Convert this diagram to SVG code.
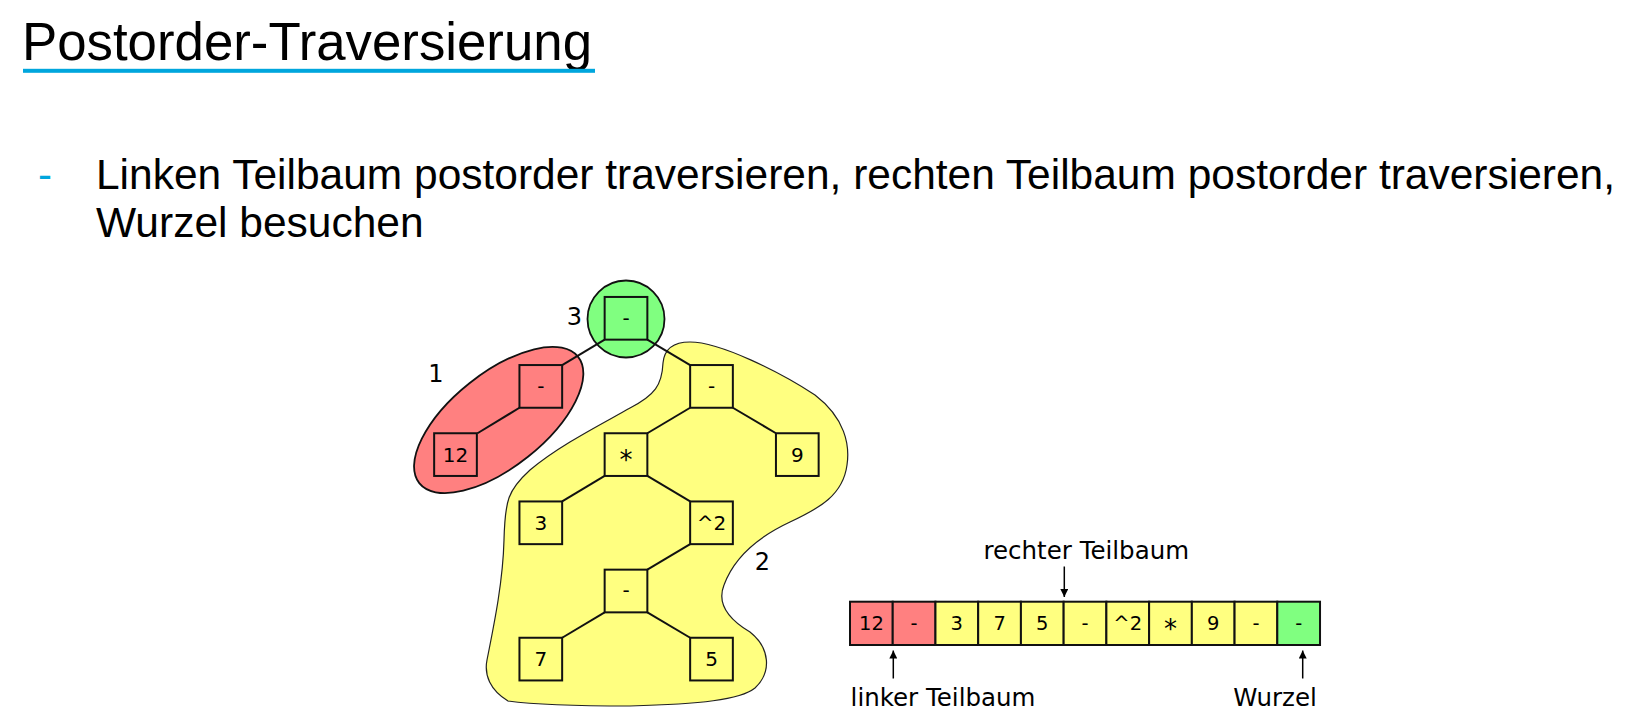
<svg xmlns="http://www.w3.org/2000/svg" width="1630" height="726" viewBox="0 0 1630 726">
<defs>
<style>
.title{font-family:"Liberation Sans",Arial,sans-serif;font-size:53px;fill:#000}
.body{font-family:"Liberation Sans",Arial,sans-serif;font-size:42.5px;fill:#000}
.bullet{font-family:"Liberation Sans",Arial,sans-serif;font-size:42px;fill:#00a6dd}
.lbl{font-family:"DejaVu Sans",Verdana,sans-serif;font-size:24px;fill:#000;text-anchor:middle}
.cap{font-family:"DejaVu Sans",Verdana,sans-serif;font-size:24.5px;fill:#000;text-anchor:middle}
.nt{font-family:"DejaVu Sans",Verdana,sans-serif;font-size:20px;fill:#000;text-anchor:middle}
.ct{font-family:"DejaVu Sans",Verdana,sans-serif;font-size:19.5px;fill:#000;text-anchor:middle}
.ast{font-size:26px}
.node{stroke:#111;stroke-width:2}
.red{fill:#ff8080}
.yel{fill:#ffff80}
.grn{fill:#80ff80}
.edge{stroke:#111;stroke-width:2;fill:none}
.arr{stroke:#000;stroke-width:1.5;fill:none;marker-end:url(#ah)}
</style>
<marker id="ah" viewBox="0 0 10 10" refX="10" refY="5" markerWidth="8" markerHeight="8" markerUnits="userSpaceOnUse" orient="auto">
<path d="M0,0 L10,5 L0,10 Z" fill="#000"/>
</marker>
</defs>
<rect width="1630" height="726" fill="#fff"/>

<g id="title">
<text class="title" x="22" y="60" textLength="570" lengthAdjust="spacingAndGlyphs">Postorder-Traversierung</text>
<rect x="23" y="68.8" width="572" height="4" fill="#00a6dd"/>
</g>

<g id="bullet">
<text class="bullet" x="38" y="189">-</text>
<text class="body" x="96" y="189" textLength="1519" lengthAdjust="spacingAndGlyphs">Linken Teilbaum postorder traversieren, rechten Teilbaum postorder traversieren,</text>
<text class="body" x="96" y="237">Wurzel besuchen</text>
</g>

<g id="groups">
<path id="blob2" d="M663,363 C664,352 670,342 690,342 C720,342 780,372 815,395 C845,418 850,445 847,465 C843,495 820,508 790,522 C760,536 735,555 724,585 C716,605 730,620 750,632 C770,648 772,672 755,688 C740,700 700,704 630,706 C580,706 530,704 508,701 C490,690 484,675 487,660 C495,620 503,580 504,540 C505,500 508,490 530,470 C560,445 600,425 630,408 C655,395 662,385 663,363 Z" fill="#ffff80" stroke="#222" stroke-width="1.2"/>
<ellipse id="ell1" cx="498.7" cy="420" rx="101.5" ry="47" transform="rotate(-38.5 498.7 420)" fill="#ff8080" stroke="#111" stroke-width="1.8"/>
<circle id="circ3" cx="626" cy="319" r="38.5" fill="#80ff80" stroke="#111" stroke-width="1.8"/>
<text class="lbl" x="574.5" y="325">3</text>
<text class="lbl" x="436" y="381.7">1</text>
<text class="lbl" x="762.5" y="570">2</text>
</g>

<g id="connectors">
<line class="edge" x1="604.65" y1="339.65" x2="562.15" y2="365.05"/>
<line class="edge" x1="647.35" y1="339.65" x2="690.15" y2="365.05"/>
<line class="edge" x1="519.45" y1="407.75" x2="477.5" y2="433.25"/>
<line class="edge" x1="690.15" y1="407.75" x2="647.35" y2="433.25"/>
<line class="edge" x1="732.85" y1="407.75" x2="775.95" y2="433.25"/>
<line class="edge" x1="604.65" y1="475.95" x2="562.15" y2="501.45"/>
<line class="edge" x1="647.35" y1="475.95" x2="690.15" y2="501.45"/>
<line class="edge" x1="690.15" y1="544.15" x2="647.35" y2="569.65"/>
<line class="edge" x1="604.65" y1="612.35" x2="562.15" y2="637.75"/>
<line class="edge" x1="647.35" y1="612.35" x2="690.15" y2="637.75"/>
<line class="arr" x1="1064.3" y1="566.5" x2="1064.3" y2="597"/>
<line class="arr" x1="893.3" y1="678.5" x2="893.3" y2="650.5"/>
<line class="arr" x1="1302.7" y1="678.5" x2="1302.7" y2="650.5"/>
</g>

<g id="n_root"><rect class="node grn" x="604.65" y="296.95" width="42.7" height="42.7"/><text class="nt" x="626" y="324.5">-</text></g>
<g id="n_lminus"><rect class="node red" x="519.45" y="365.05" width="42.7" height="42.7"/><text class="nt" x="540.8" y="392.6">-</text></g>
<g id="n_12"><rect class="node red" x="434.15" y="433.25" width="42.7" height="42.7"/><text class="nt" x="455.5" y="461.8">12</text></g>
<g id="n_rminus"><rect class="node yel" x="690.15" y="365.05" width="42.7" height="42.7"/><text class="nt" x="711.5" y="392.6">-</text></g>
<g id="n_mul"><rect class="node yel" x="604.65" y="433.25" width="42.7" height="42.7"/><text class="nt ast" x="626" y="469">*</text></g>
<g id="n_9"><rect class="node yel" x="775.95" y="433.25" width="42.7" height="42.7"/><text class="nt" x="797.3" y="461.8">9</text></g>
<g id="n_3"><rect class="node yel" x="519.45" y="501.45" width="42.7" height="42.7"/><text class="nt" x="540.8" y="530">3</text></g>
<g id="n_sq"><rect class="node yel" x="690.15" y="501.45" width="42.7" height="42.7"/><text class="nt" x="711.5" y="530">^2</text></g>
<g id="n_mminus"><rect class="node yel" x="604.65" y="569.65" width="42.7" height="42.7"/><text class="nt" x="626" y="597.2">-</text></g>
<g id="n_7"><rect class="node yel" x="519.45" y="637.75" width="42.7" height="42.7"/><text class="nt" x="540.8" y="666.3">7</text></g>
<g id="n_5"><rect class="node yel" x="690.15" y="637.75" width="42.7" height="42.7"/><text class="nt" x="711.5" y="666.3">5</text></g>

<g id="list">
<rect class="node red" x="850" y="601.7" width="42.73" height="43.3"/>
<rect class="node red" x="892.73" y="601.7" width="42.73" height="43.3"/>
<rect class="node yel" x="935.46" y="601.7" width="42.73" height="43.3"/>
<rect class="node yel" x="978.19" y="601.7" width="42.73" height="43.3"/>
<rect class="node yel" x="1020.92" y="601.7" width="42.73" height="43.3"/>
<rect class="node yel" x="1063.65" y="601.7" width="42.73" height="43.3"/>
<rect class="node yel" x="1106.38" y="601.7" width="42.73" height="43.3"/>
<rect class="node yel" x="1149.11" y="601.7" width="42.73" height="43.3"/>
<rect class="node yel" x="1191.84" y="601.7" width="42.73" height="43.3"/>
<rect class="node yel" x="1234.57" y="601.7" width="42.73" height="43.3"/>
<rect class="node grn" x="1277.3" y="601.7" width="42.73" height="43.3"/>
<text class="ct" x="871.4" y="630">12</text>
<text class="ct" x="914.1" y="630">-</text>
<text class="ct" x="956.8" y="630">3</text>
<text class="ct" x="999.6" y="630">7</text>
<text class="ct" x="1042.3" y="630">5</text>
<text class="ct" x="1085" y="630">-</text>
<text class="ct" x="1127.7" y="630">^2</text>
<text class="ct ast" x="1170.5" y="638">*</text>
<text class="ct" x="1213.2" y="630">9</text>
<text class="ct" x="1255.9" y="630">-</text>
<text class="ct" x="1298.7" y="630">-</text>
</g>

<g id="captions">
<text class="cap" x="1086.3" y="559.3">rechter Teilbaum</text>
<text class="cap" x="943" y="705.7">linker Teilbaum</text>
<text class="cap" x="1275" y="705.7">Wurzel</text>
</g>
</svg>
